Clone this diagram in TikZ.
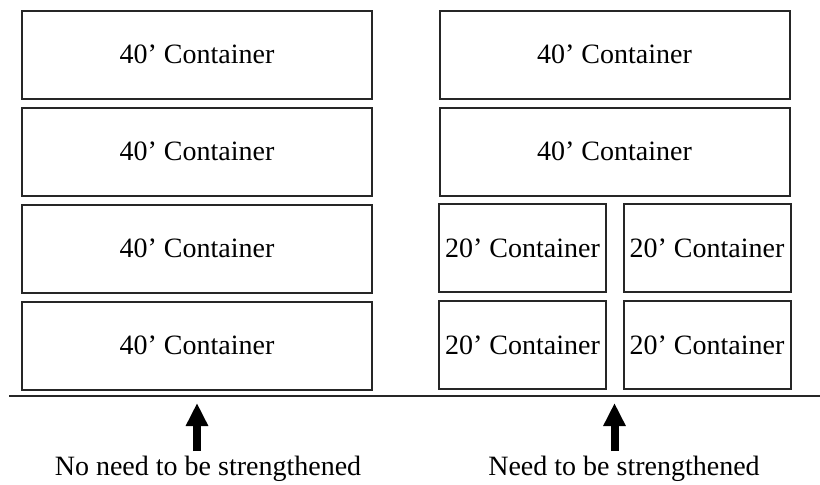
\documentclass[tikz,border=0pt]{standalone}
\usepackage{fontspec}
\setmainfont{Liberation Serif}
\usepackage{tikz}
\usetikzlibrary{positioning, arrows.meta, calc}
\tikzstyle{big} = [rectangle, minimum width=175pt, minimum height=44pt, text centered, inner sep=0pt, draw=black!85, line width=1pt]
\tikzstyle{small} = [rectangle, minimum width=83.5pt, minimum height=44pt, text centered, inner sep=0pt, draw=black!85, line width=1pt]
\tikzstyle{ground} = [line width=1pt, draw=black!85]
\tikzstyle{arrow} = [-{Triangle[width=10.5pt,length=11.5pt]}, line width=4pt]
\tikzstyle{every node}=[font=\fontsize{14}{16}\selectfont]

\begin{document}
\begin{tikzpicture}[x=0.5pt, y=-0.5pt]
  \useasboundingbox (0,0) rectangle (820,484);
  %左边四个40'箱
  \node (l1) [big] at (197,54.5) {40’ Container};
  \node (l2) [big, below=3.5pt of l1] {40’ Container};
  \node (l3) [big, below=3.5pt of l2] {40’ Container};
  \node (l4) [big, below=3.5pt of l3] {40’ Container};

  %右边两个40'箱和四个20'箱
  \node (r1) [big] at (614.5,54.5) {40’ Container};
  \node (r2) [big, below=3.5pt of r1] {40’ Container};
  \node (s1) [small] at (522.5,248) {20’ Container};
  \node (s2) [small] at (707,248) {20’ Container};
  \node (s3) [small, below=3.5pt of s1] {20’ Container};
  \node (s4) [small, below=3.5pt of s2] {20’ Container};

  %地面和箭头
  \coordinate (gl) at (9,396);
  \coordinate (gr) at (820,396);
  \draw [ground](gl) -- (gr);
  \coordinate (t1) at ($(gl -| l4.south) + (0,7)$);
  \coordinate (t2) at ($(gl -| r2.south) + (0,7)$);
  \node (lab1) at (208,469) {No need to be strengthened};
  \node (lab2) at (624,469) {Need to be strengthened};
  \draw [arrow]($(lab1.north -| t1) + (0,2)$) -- (t1);
  \draw [arrow]($(lab2.north -| t2) + (0,2)$) -- (t2);
\end{tikzpicture}
\end{document}
